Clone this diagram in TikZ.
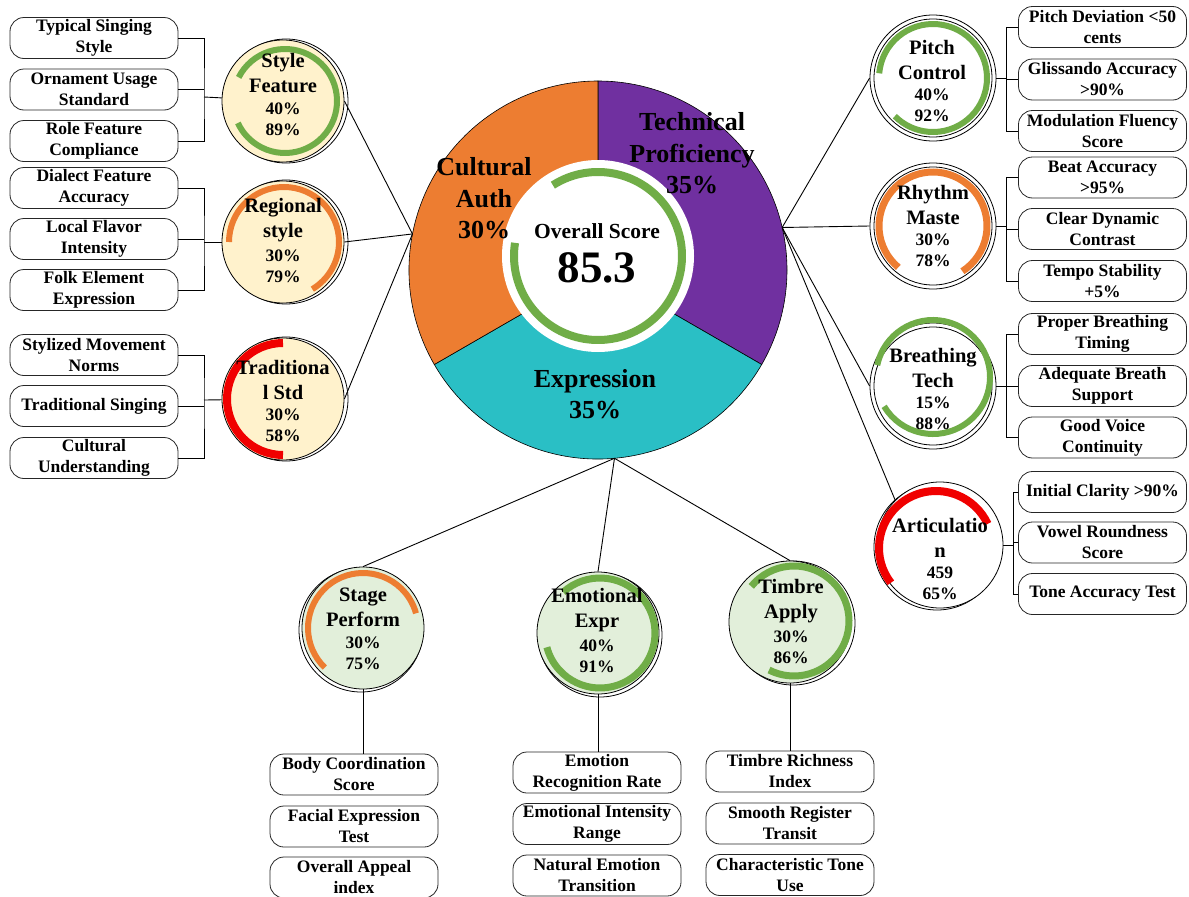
\documentclass[tikz,border=0pt]{standalone}
\usepackage{fontspec}
\setmainfont{Liberation Serif}
\definecolor{cultorange}{HTML}{ED7D31}
\definecolor{techpurple}{HTML}{7030A0}
\definecolor{exprteal}{HTML}{2ABFC5}
\definecolor{ringgreen}{HTML}{70AD47}
\definecolor{ringred}{HTML}{F00000}
\definecolor{beigefill}{HTML}{FFF2CC}
\definecolor{mintfill}{HTML}{E2EFDA}
\newcommand\satlabel[5]{% id, x, centre of first line, name lines, percentage lines
  \node[sname] (#1-n) at (#2,#3+12.5) {#4};
  \node[spct] (#1-p) at (#2,#3+58.5) {#5};}
\begin{document}
\begin{tikzpicture}[x=1pt,y=-1pt,font=\bfseries,
  sat/.style={circle,draw=black,line width=0.8pt,minimum size=122pt,inner sep=0pt},
  satr/.style={circle,draw=black,line width=0.8pt,minimum size=126pt,inner sep=0pt,fill=white},
  leaf/.style={rectangle,rounded corners=14pt,draw=black!85,line width=0.8pt,fill=white,
    minimum width=168pt,minimum height=41pt,inner sep=1pt,align=center,
    font=\bfseries\fontsize{17.5}{21}\selectfont},
  sname/.style={align=center,inner sep=0pt,font=\bfseries\fontsize{20.5}{25}\selectfont},
  spct/.style={align=center,inner sep=0pt,font=\bfseries\fontsize{17.5}{21}\selectfont},
  wlabel/.style={align=center,inner sep=0pt,font=\bfseries\fontsize{26}{31.5}\selectfont},
  ring/.style={line width=6pt},
  link/.style={draw=black,line width=0.9pt},
  wedge/.style={draw=black,line width=0.6pt}]
\useasboundingbox (0,0) rectangle (1189,897);

% ---------- central donut ----------
\node[circle,minimum size=378pt,inner sep=0pt,outer sep=0pt] (pie) at (598,270) {};
\filldraw[wedge,fill=techpurple] (pie.center) -- ++(-90:189) arc[start angle=-90,end angle=30,radius=189] -- cycle;
\filldraw[wedge,fill=exprteal] (pie.center) -- ++(30:189) arc[start angle=30,end angle=150,radius=189] -- cycle;
\filldraw[wedge,fill=cultorange] (pie.center) -- ++(150:189) arc[start angle=150,end angle=270,radius=189] -- cycle;
\fill[white] (598,256) circle[radius=96];
\draw[ringgreen,line width=8pt] ([shift={(-122.5:84)}]598,256) arc[start angle=-122.5,end angle=189,radius=84];

\node[wlabel] (techlbl) at (692,153.5) {Technical\\Proficiency\\35\%};
\node[wlabel] (cultlbl) at (484,198.5) {Cultural\\Auth\\30\%};
\node[wlabel] (exprlbl) at (595,394) {Expression\\35\%};
\node[inner sep=0pt,font=\bfseries\fontsize{21.5}{25}\selectfont] (oslbl) at (597,231) {Overall Score};
\node[inner sep=0pt,font=\bfseries\fontsize{45}{50}\selectfont] (osval) at (597,268) {85.3};

% ---------- satellite circles: cultural authenticity ----------
\draw[line width=0.8pt] (286,101) circle[radius=62pt];
\node[sat,fill=beigefill] (sf) at (283,101) {};
\draw[ring,ringgreen] ([shift={(-153:52)}]285,101) arc[start angle=-153,end angle=155,radius=52];
\satlabel{sf}{283}{61}{Style\\Feature}{40\%\\89\%}

\draw[line width=0.8pt] (286,242) circle[radius=62pt];
\node[sat,fill=beigefill] (rs) at (283,242) {};
\draw[ring,cultorange] ([shift={(-180:55)}]284,242) arc[start angle=-180,end angle=59,radius=55];
\satlabel{rs}{283}{208}{Regional\\style}{30\%\\79\%}

\draw[line width=0.8pt] (286,399) circle[radius=62pt];
\node[sat,fill=beigefill] (ts) at (283,399) {};
\draw[ringred,line width=8pt] ([shift={(-90:56)}]283,399) arc[start angle=-90,end angle=-270,radius=56];
\satlabel{ts}{283}{367}{Traditiona\\l Std}{30\%\\58\%}

% ---------- satellite circles: technical proficiency ----------
\node[satr] (pc) at (933,78) {};
\draw[line width=0.8pt] (pc.center) circle[radius=59pt];
\draw[ring,ringgreen] ([shift={(-175:54)}]933,78) arc[start angle=-175,end angle=135,radius=54];
\satlabel{pc}{932}{47}{Pitch\\Control}{40\%\\92\%}

\node[satr] (rm) at (933,226) {};
\draw[line width=0.8pt] (rm.center) circle[radius=59pt];
\draw[cultorange,line width=7pt] ([shift={(-230:54)}]933,226) arc[start angle=-230,end angle=57,radius=54];
\satlabel{rm}{933}{192}{Rhythm\\Maste}{30\%\\78\%}

\node[satr] (bt) at (933,386) {};
\draw[line width=0.8pt] (bt.center) circle[radius=59pt];
\draw[ring,ringgreen] ([shift={(-168:57)}]933,377) arc[start angle=-168,end angle=149,radius=57];
\satlabel{bt}{933}{355}{Breathing\\Tech}{15\%\\88\%}

\draw[line width=0.8pt] (937,547) circle[radius=63pt];
\node[satr] (ar) at (940,545) {};
\draw[ringred,line width=8pt] ([shift={(-217.6:57)}]936,548) arc[start angle=-217.6,end angle=-25,radius=57];
\satlabel{ar}{940}{525}{Articulatio\\n}{459\\65\%}

% ---------- satellite circles: expression ----------
\draw[line width=0.8pt] (361,630) circle[radius=62pt];
\node[sat,fill=mintfill] (sp) at (363,628) {};
\draw[ring,cultorange] ([shift={(-226:55)}]363,628) arc[start angle=-226,end angle=-15.5,radius=55];
\satlabel{sp}{363}{595}{Stage\\Perform}{30\%\\75\%}

\draw[line width=0.8pt] (600,635) circle[radius=62pt];
\node[sat,fill=mintfill] (ee) at (598,633) {};
\draw[ringgreen,line width=7pt] ([shift={(-132:55)}]600,633) arc[start angle=-132,end angle=165,radius=55];
\satlabel{ee}{597}{598}{Emotional\\Expr}{40\%\\91\%}

\draw[line width=0.8pt] (793,623) circle[radius=62pt];
\node[sat,fill=mintfill] (ta) at (790,622) {};
\draw[ringgreen,line width=7pt] ([shift={(-141:55)}]794,621) arc[start angle=-141,end angle=117,radius=55];
\satlabel{ta}{791}{589}{Timbre\\Apply}{30\%\\86\%}

% ---------- spokes from the donut ----------
\draw[link] (pie.169) -- (sf.east);
\draw[link] (pie.169) -- (rs.east);
\draw[link] (pie.169) -- (ts.east);
\draw[link] (pie.13) -- (pc.west);
\draw[link] (pie.13) -- (rm.west);
\draw[link] (pie.13) -- (bt.west);
\draw[link] (pie.13) -- (ar.north west);
\draw[link] (pie.-85) -- (sp.north);
\draw[link] (pie.-85) -- (ee.north);
\draw[link] (pie.-85) -- (ta.north);

% ---------- left indicator boxes ----------
\node[leaf] (l1) at (94,38) {Typical Singing\\Style};
\node[leaf] (l2) at (94,89.5) {Ornament Usage\\Standard};
\node[leaf] (l3) at (94,141) {Role Feature\\Compliance};
\node[leaf] (l4) at (94,188) {Dialect Feature\\Accuracy};
\node[leaf] (l5) at (94,239) {Local Flavor\\Intensity};
\node[leaf] (l6) at (94,290) {Folk Element\\Expression};
\node[leaf] (l7) at (94,355) {Stylized Movement\\Norms};
\node[leaf] (l8) at (94,406) {Traditional Singing};
\node[leaf] (l9) at (94,458) {Cultural\\Understanding};

\coordinate (jsf) at (204,97);
\coordinate (jrs) at (204,242);
\coordinate (jts) at (204,400);
\draw[link] (l1.east) -| (jsf) |- (l3.east);
\draw[link] (l2.east) -- (l2.east -| jsf);
\draw[link] (jsf) -- (sf);
\draw[link] (l4.east) -| (jrs) |- (l6.east);
\draw[link] (l5.east) -- (l5.east -| jrs);
\draw[link] (jrs) -- (rs);
\draw[link] (l7.east) -| (jts) |- (l9.east);
\draw[link] (l8.east) -- (l8.east -| jts);
\draw[link] (jts) -- (ts);

% ---------- right indicator boxes ----------
\node[leaf] (r1) at (1102.5,27) {Pitch Deviation <50\\cents};
\node[leaf] (r2) at (1102.5,79.5) {Glissando Accuracy\\>90\%};
\node[leaf] (r3) at (1102.5,131) {Modulation Fluency\\Score};
\node[leaf] (r4) at (1102.5,177.5) {Beat Accuracy\\>95\%};
\node[leaf] (r5) at (1102.5,229) {Clear Dynamic\\Contrast};
\node[leaf] (r6) at (1102.5,281) {Tempo Stability\\+5\%};
\node[leaf] (r7) at (1102.5,334) {Proper Breathing\\Timing};
\node[leaf] (r8) at (1102.5,386) {Adequate Breath\\Support};
\node[leaf] (r9) at (1102.5,437.5) {Good Voice\\Continuity};
\node[leaf] (r10) at (1102.5,492) {Initial Clarity >90\%};
\node[leaf] (r11) at (1102.5,542.5) {Vowel Roundness\\Score};
\node[leaf] (r12) at (1102.5,594) {Tone Accuracy Test};

\coordinate (jpc) at (1006,78);
\coordinate (jrm) at (1006,226);
\coordinate (jbt) at (1006,386);
\coordinate (jar) at (1013,545);
\draw[link] (r1.west) -| (jpc) |- (r3.west);
\draw[link] (r2.west) -- (r2.west -| jpc);
\draw[link] (jpc) -- (pc);
\draw[link] (r4.west) -| (jrm) |- (r6.west);
\draw[link] (r5.west) -- (r5.west -| jrm);
\draw[link] (jrm) -- (rm);
\draw[link] (r7.west) -| (jbt) |- (r9.west);
\draw[link] (r8.west) -- (r8.west -| jbt);
\draw[link] (jbt) -- (bt);
\draw[link] (r10.west) -| (jar) |- (r12.west);
\draw[link] (r11.west) -- (r11.west -| jar);
\draw[link] (jar) -- (ar);

% ---------- bottom indicator boxes ----------
\node[leaf] (s1) at (354,774.5) {Body Coordination\\Score};
\node[leaf] (s2) at (354,826.5) {Facial Expression\\Test};
\node[leaf] (s3) at (354,877.5) {Overall Appeal\\index};
\node[leaf] (e1) at (597,772.5) {Emotion\\Recognition Rate};
\node[leaf] (e2) at (597,824) {Emotional Intensity\\Range};
\node[leaf] (e3) at (597,875.5) {Natural Emotion\\Transition};
\node[leaf] (t1) at (790,771.5) {Timbre Richness\\Index};
\node[leaf] (t2) at (790,823.5) {Smooth Register\\Transit};
\node[leaf] (t3) at (790,875) {Characteristic Tone\\Use};

\draw[link] (sp.south) -- (sp.south |- s1.north);
\draw[link] (ee.south) -- (ee.south |- e1.north);
\draw[link] (ta.south) -- (ta.south |- t1.north);
\end{tikzpicture}
\end{document}
